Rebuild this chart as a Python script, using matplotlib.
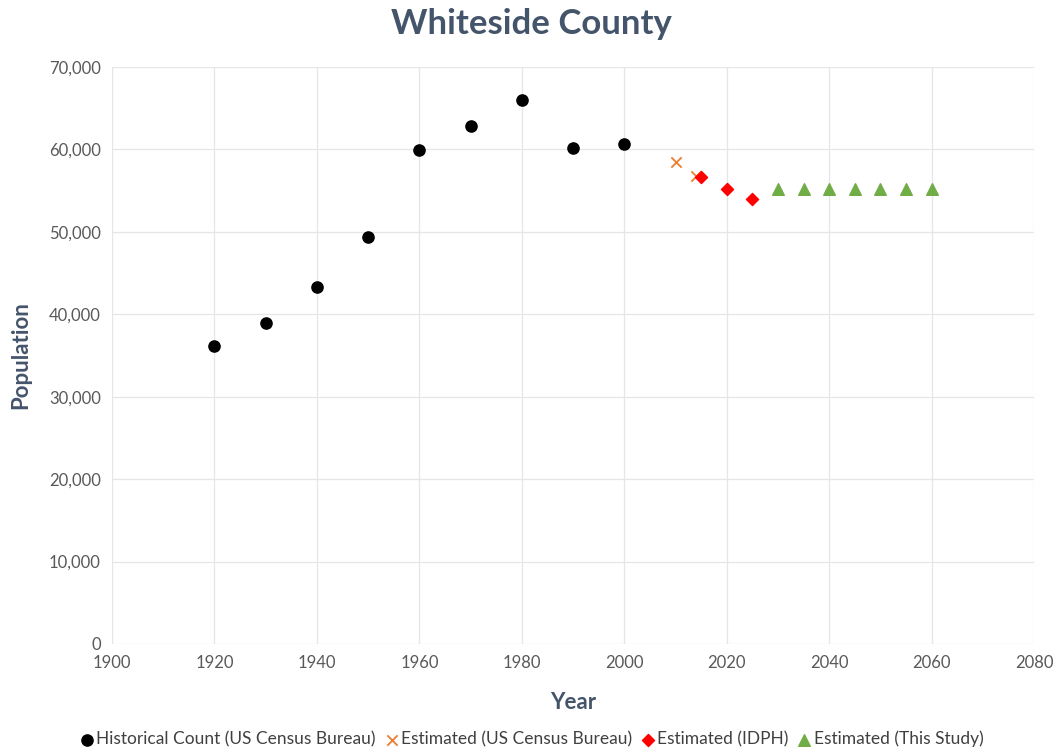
import matplotlib
matplotlib.use("Agg")
import matplotlib.pyplot as plt
from matplotlib.ticker import FuncFormatter, MultipleLocator

plt.rcParams['font.family'] = ['Lato', 'DejaVu Sans']

hist_years = [1920, 1930, 1940, 1950, 1960, 1970, 1980, 1990, 2000]
hist_pop = [36174, 38900, 43338, 49336, 59887, 62877, 65970, 60186, 60653]

census_est_years = [2010, 2014]
census_est_pop = [58498, 56800]

idph_years = [2015, 2020, 2025]
idph_pop = [56650, 55200, 54000]

study_years = [2030, 2035, 2040, 2045, 2050, 2055, 2060]
study_pop = [55200, 55200, 55200, 55200, 55200, 55200, 55200]

title_color = '#44546A'
tick_color = '#595959'
grid_color = '#E6E6E6'

fig = plt.figure(figsize=(10.62, 7.53), dpi=100)
ax = fig.add_axes([0.1055, 0.1448, 0.8682, 0.7663])

ax.scatter(hist_years, hist_pop, marker='o', s=65, color='black', zorder=3,
           label='Historical Count (US Census Bureau)')
ax.scatter(census_est_years, census_est_pop, marker='x', s=55, color='#ED7D31',
           linewidths=1.3, zorder=3, label='Estimated (US Census Bureau)')
ax.scatter(idph_years, idph_pop, marker='D', s=38, color='#FF0000', zorder=4,
           label='Estimated (IDPH)')
ax.scatter(study_years, study_pop, marker='^', s=70, color='#70AD47', zorder=3,
           label='Estimated (This Study)')

ax.set_xlim(1900, 2080)
ax.set_ylim(0, 70000)
ax.xaxis.set_major_locator(MultipleLocator(20))
ax.yaxis.set_major_locator(MultipleLocator(10000))
ax.yaxis.set_major_formatter(FuncFormatter(lambda v, p: f'{int(v):,}'))

ax.grid(True, color=grid_color, linewidth=0.9)
ax.set_axisbelow(True)
for s in ax.spines.values():
    s.set_visible(False)
ax.tick_params(length=0, labelsize=12, colors=tick_color, pad=8)

fig.text(0.5, 0.968, 'Whiteside County', ha='center', va='center',
         fontsize=25, fontweight='bold', color=title_color)
ax.set_xlabel('Year', fontsize=16, fontweight='bold', color=title_color, labelpad=15)
ax.set_ylabel('Population', fontsize=16, fontweight='bold', color=title_color, labelpad=13)

leg = fig.legend(loc='lower center', bbox_to_anchor=(0.5, -0.013), ncol=4, frameon=False,
                 fontsize=12.5, handletextpad=0.05, columnspacing=0.4, handlelength=1.0,
                 labelcolor='#404040')

fig.savefig('out.png', dpi=100)
